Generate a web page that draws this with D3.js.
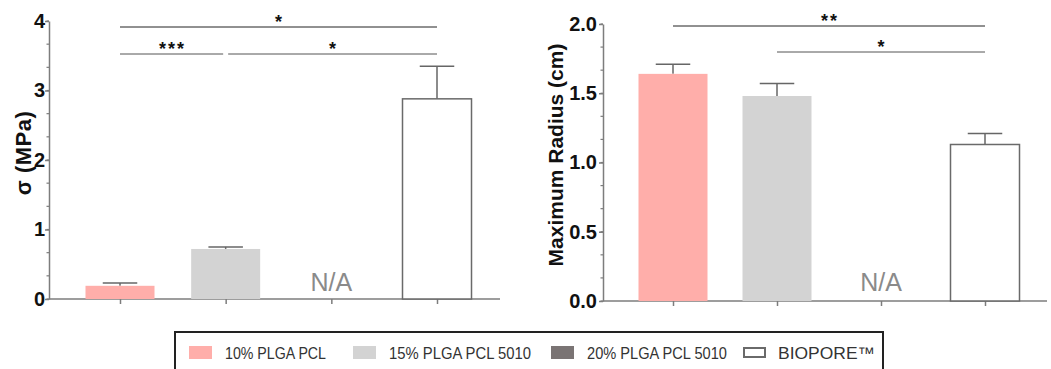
<!DOCTYPE html>
<html>
<head>
<meta charset="utf-8">
<script src="https://cdn.jsdelivr.net/npm/d3@7"></script>
<style>
  body { margin: 0; background: #fff; }
  svg { display: block; }
</style>
</head>
<body>
<script>
// groups shown in both panels
const categories = ["10% PLGA PCL", "15% PLGA PCL 5010", "20% PLGA PCL 5010", "BIOPORE\u2122"];
const colors = ["#ffaeaa", "#d3d3d3", "#7a7474", "#ffffff"];

// left panel: stress (MPa), null = not available
const sigmaMean = [0.19, 0.72, null, 2.88];
const sigmaErr  = [0.04, 0.03, null, 0.47];
const sigmaTicks = [0, 1, 2, 3, 4];

// right panel: maximum radius (cm)
const radiusMean = [1.64, 1.48, null, 1.13];
const radiusErr  = [0.07, 0.09, null, 0.08];
const radiusTicks = [0, 0.5, 1.0, 1.5, 2.0];

// significance brackets: [from index, to index, label, row]
const sigmaSig  = [[0, 3, "*", 0], [0, 1, "***", 1], [1, 3, "*", 1]];
const radiusSig = [[0, 3, "**", 0], [1, 3, "*", 1]];

const W = 1051, H = 369;
const svg = d3.select("body").append("svg")
    .attr("width", W).attr("height", H);

const axisColor = "#7d7d7d";
const barW = 69;

function drawPanel(opt) {
  const g = svg.append("g");

  const x = d3.scalePoint()
      .domain(categories)
      .range(opt.xRange);

  const y = d3.scaleLinear()
      .domain(opt.yDomain)
      .range(opt.yRange);

  // minor ticks (3 per major interval)
  const step = (opt.ticks[1] - opt.ticks[0]) / 3;
  const minor = d3.range(0, (opt.ticks.length - 1) * 3 + 1).map(i => opt.ticks[0] + i * step);
  g.append("g")
      .attr("transform", "translate(" + opt.axisX + ",0)")
      .selectAll("line")
      .data(minor)
      .enter()
      .append("line")
        .attr("x1", -2.5).attr("x2", 0)
        .attr("y1", d => y(d)).attr("y2", d => y(d))
        .attr("stroke", axisColor).attr("stroke-width", 1.2);

  // y axis
  const yAxis = g.append("g")
      .attr("transform", "translate(" + opt.axisX + ",0)")
      .call(d3.axisLeft(y).tickValues(opt.ticks).tickFormat(opt.fmt)
            .tickSize(4).tickPadding(opt.pad).tickSizeOuter(0));
  yAxis.select(".domain").attr("stroke", axisColor).attr("stroke-width", 1.5);
  yAxis.selectAll(".tick line").attr("stroke", axisColor).attr("stroke-width", 1.5);
  yAxis.selectAll(".tick text")
      .attr("fill", "#111")
      .style("font", "bold 20px 'Liberation Sans', Arial, sans-serif");

  // x axis
  const xAxis = g.append("g")
      .attr("transform", "translate(0," + y(0) + ")")
      .call(d3.axisBottom(x).tickSize(5).tickFormat(""));
  xAxis.select(".domain").remove();
  xAxis.selectAll(".tick line").attr("stroke", axisColor).attr("stroke-width", 1.5);
  g.append("line")
      .attr("x1", opt.axisX).attr("x2", opt.xEnd)
      .attr("y1", y(0)).attr("y2", y(0))
      .attr("stroke", axisColor).attr("stroke-width", 1.5);

  const data = categories.map((c, i) => ({
    cat: c, mean: opt.mean[i], err: opt.err[i], color: colors[i], white: i === 3
  }));
  const present = data.filter(d => d.mean !== null);

  // error bars (upper only)
  present.forEach(d => {
    g.append("line")
        .attr("x1", x(d.cat)).attr("x2", x(d.cat))
        .attr("y1", y(d.mean)).attr("y2", y(d.mean + d.err))
        .attr("stroke", "#666").attr("stroke-width", 1.5);
    g.append("line")
        .attr("x1", x(d.cat) - barW / 4).attr("x2", x(d.cat) + barW / 4)
        .attr("y1", y(d.mean + d.err)).attr("y2", y(d.mean + d.err))
        .attr("stroke", "#666").attr("stroke-width", 1.5);
  });

  // bars
  g.selectAll("rect.bar")
      .data(present)
      .enter()
      .append("rect")
        .attr("class", "bar")
        .attr("x", d => x(d.cat) - barW / 2)
        .attr("width", barW)
        .attr("y", d => y(d.mean))
        .attr("height", d => y(0) - y(d.mean))
        .attr("fill", d => d.color)
        .attr("stroke", d => d.white ? "#6a6a6a" : "none")
        .attr("stroke-width", 1.5);

  // N/A for missing group
  data.filter(d => d.mean === null).forEach(d => {
    g.append("text")
        .attr("x", x(d.cat)).attr("y", 291)
        .attr("text-anchor", "middle")
        .attr("fill", "#8a8a8a")
        .style("font", "25px 'Liberation Sans', Arial, sans-serif")
        .text("N/A");
  });

  // significance brackets
  opt.sig.forEach(s => {
    const yy = opt.sigRows[s[3]];
    let x1 = x(categories[s[0]]), x2 = x(categories[s[1]]);
    // leave a small gap where two brackets meet on the same row
    if (opt.sig.some(o => o !== s && o[3] === s[3] && o[0] === s[1])) x2 -= 2.5;
    if (opt.sig.some(o => o !== s && o[3] === s[3] && o[1] === s[0])) x1 += 2.5;
    g.append("line")
        .attr("x1", x1).attr("x2", x2)
        .attr("y1", yy).attr("y2", yy)
        .attr("stroke", s[3] === 0 ? "#222" : "#555").attr("stroke-width", 1);
    g.append("text")
        .attr("x", (x1 + x2) / 2 + 1).attr("y", yy + 1)
        .attr("text-anchor", "middle")
        .attr("fill", "#111")
        .attr("letter-spacing", "2px")
        .style("font", "bold 18px 'Liberation Sans', Arial, sans-serif")
        .text(s[2]);
  });

  // y title
  g.append("text")
      .attr("transform", "translate(" + opt.titleX + "," + opt.titleY + ") rotate(-90)")
      .attr("text-anchor", "middle")
      .attr("fill", "#111")
      .attr("letter-spacing", opt.titleSpacing)
      .style("font", "bold " + opt.titleSize + " 'Liberation Sans', Arial, sans-serif")
      .text(opt.title);
}

drawPanel({
  xRange: [120, 437], axisX: 49, xEnd: 500,
  yDomain: [0, 4], yRange: [299, 21],
  ticks: sigmaTicks, fmt: d3.format("d"), pad: 0,
  mean: sigmaMean, err: sigmaErr,
  sig: sigmaSig, sigRows: [27, 54],
  title: "\u03c3 (MPa)", titleX: 31, titleY: 153, titleSpacing: "0.5px", titleSize: "22px"
});

drawPanel({
  xRange: [673, 985], axisX: 603, xEnd: 1047,
  yDomain: [0, 2], yRange: [301, 24],
  ticks: radiusTicks, fmt: d3.format(".1f"), pad: 2,
  mean: radiusMean, err: radiusErr,
  sig: radiusSig, sigRows: [26, 52],
  title: "Maximum Radius (cm)", titleX: 563, titleY: 155, titleSpacing: "0px", titleSize: "21px"
});

// legend
const legend = svg.append("g");
legend.append("rect")
    .attr("x", 175).attr("y", 332)
    .attr("width", 708).attr("height", 60)
    .attr("fill", "#fff")
    .attr("stroke", "#222").attr("stroke-width", 2);

const legendX = [189, 353, 551, 743];
const legendTextW = [101, 142, 140, 97];
categories.forEach((c, i) => {
  const lg = legend.append("g").attr("transform", "translate(" + legendX[i] + ",0)");
  if (i === 3) {
    lg.append("rect")
        .attr("x", 1).attr("y", 348).attr("width", 21).attr("height", 9)
        .attr("fill", "#fff").attr("stroke", "#6a6a6a").attr("stroke-width", 2);
  } else {
    lg.append("rect")
        .attr("x", 0).attr("y", 346).attr("width", 23).attr("height", 13)
        .attr("fill", colors[i]);
  }
  lg.append("text")
      .attr("x", i === 3 ? 35 : 36).attr("y", 359)
      .attr("fill", "#333")
      .attr("textLength", legendTextW[i])
      .attr("lengthAdjust", "spacingAndGlyphs")
      .style("font", "17px 'Liberation Sans', Arial, sans-serif")
      .text(c);
});
</script>
</body>
</html>
